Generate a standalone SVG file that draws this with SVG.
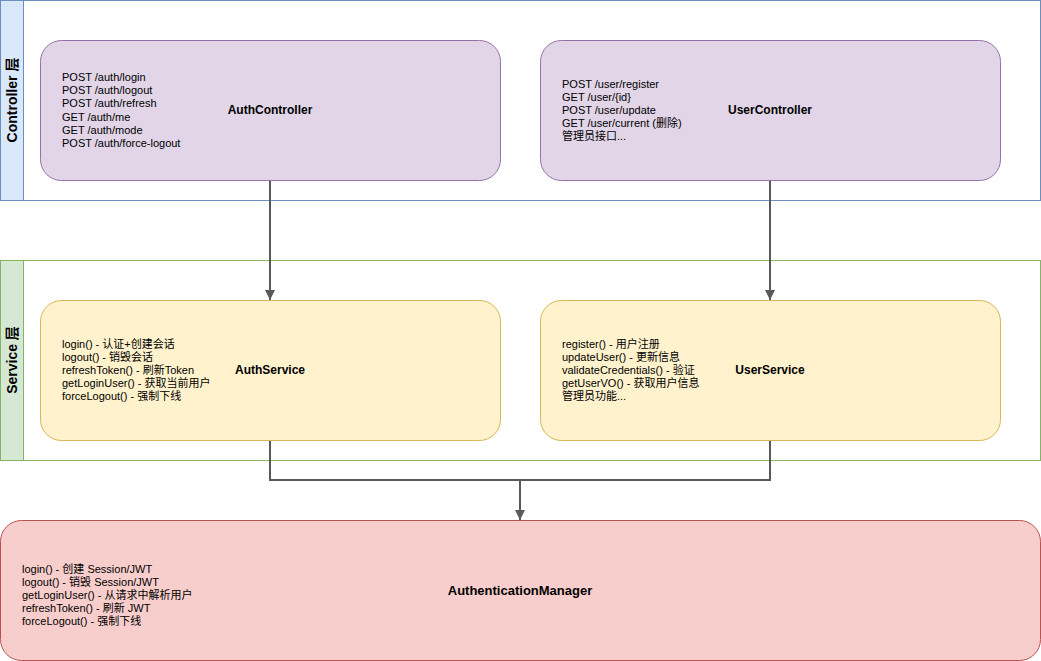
<svg xmlns="http://www.w3.org/2000/svg" width="1041" height="661" viewBox="0 0 1041 661">
  <style>
    text { font-family: "Liberation Sans", "Noto Sans CJK SC", sans-serif; fill: #000000; }
    .lst { font-size: 11px; }
    .ttl { font-size: 12px; font-weight: bold; text-anchor: middle; }
    .ttl-big { font-size: 13px; font-weight: bold; text-anchor: middle; }
    .lane-title { font-size: 14px; font-weight: bold; text-anchor: middle; }
    .ctrl { fill: #e1d5e7; stroke: #9673a6; stroke-width: 1; }
    .svc { fill: #fff2cc; stroke: #d6b656; stroke-width: 1; }
    .mgr { fill: #f8cecc; stroke: #b85450; stroke-width: 1; }
    .edge { fill: none; stroke: #595959; stroke-width: 2; }
  </style>
  <defs>
    <marker id="arrow" viewBox="0 0 10 10" refX="10" refY="5" markerWidth="5" markerHeight="5" markerUnits="strokeWidth" orient="auto">
      <path d="M0,0 L10,5 L0,10 Z" fill="#595959"/>
    </marker>
  </defs>
  <rect x="0" y="0" width="1041" height="661" fill="#ffffff"/>

  <g id="lane-controller">
    <rect x="0.5" y="0.5" width="1040" height="200" fill="#ffffff" stroke="#6c8ebf"/>
    <rect x="0.5" y="0.5" width="23" height="200" fill="#dae8fc" stroke="#6c8ebf"/>
    <text class="lane-title" transform="translate(17,100) rotate(-90)">Controller 层</text>
  </g>

  <g id="lane-service">
    <rect x="0.5" y="260.5" width="1040" height="200" fill="#ffffff" stroke="#82b366"/>
    <rect x="0.5" y="260.5" width="23" height="200" fill="#d5e8d4" stroke="#82b366"/>
    <text class="lane-title" transform="translate(17,360) rotate(-90)">Service 层</text>
  </g>

  <g id="AuthController">
    <rect class="ctrl" x="40.5" y="40.5" width="460" height="140" rx="21" ry="21"/>
    <text class="lst" x="62">
      <tspan x="62" y="81">POST /auth/login</tspan>
      <tspan x="62" y="94.2">POST /auth/logout</tspan>
      <tspan x="62" y="107.4">POST /auth/refresh</tspan>
      <tspan x="62" y="120.6">GET /auth/me</tspan>
      <tspan x="62" y="133.8">GET /auth/mode</tspan>
      <tspan x="62" y="147">POST /auth/force-logout</tspan>
    </text>
    <text class="ttl" x="270" y="114.3">AuthController</text>
  </g>

  <g id="UserController">
    <rect class="ctrl" x="540.5" y="40.5" width="460" height="140" rx="21" ry="21"/>
    <text class="lst" x="562">
      <tspan x="562" y="87.6">POST /user/register</tspan>
      <tspan x="562" y="100.8">GET /user/{id}</tspan>
      <tspan x="562" y="114">POST /user/update</tspan>
      <tspan x="562" y="127.2">GET /user/current (删除)</tspan>
      <tspan x="562" y="140.4">管理员接口...</tspan>
    </text>
    <text class="ttl" x="770" y="114.3">UserController</text>
  </g>

  <g id="AuthService">
    <rect class="svc" x="40.5" y="300.5" width="460" height="140" rx="21" ry="21"/>
    <text class="lst" x="62">
      <tspan x="62" y="347.6">login() - 认证+创建会话</tspan>
      <tspan x="62" y="360.8">logout() - 销毁会话</tspan>
      <tspan x="62" y="374">refreshToken() - 刷新Token</tspan>
      <tspan x="62" y="387.2">getLoginUser() - 获取当前用户</tspan>
      <tspan x="62" y="400.4">forceLogout() - 强制下线</tspan>
    </text>
    <text class="ttl" x="270" y="374.3">AuthService</text>
  </g>

  <g id="UserService">
    <rect class="svc" x="540.5" y="300.5" width="460" height="140" rx="21" ry="21"/>
    <text class="lst" x="562">
      <tspan x="562" y="347.6">register() - 用户注册</tspan>
      <tspan x="562" y="360.8">updateUser() - 更新信息</tspan>
      <tspan x="562" y="374">validateCredentials() - 验证</tspan>
      <tspan x="562" y="387.2">getUserVO() - 获取用户信息</tspan>
      <tspan x="562" y="400.4">管理员功能...</tspan>
    </text>
    <text class="ttl" x="770" y="374.3">UserService</text>
  </g>

  <g id="AuthenticationManager">
    <rect class="mgr" x="0.5" y="520.5" width="1040" height="140" rx="21" ry="21"/>
    <text class="lst" x="22">
      <tspan x="22" y="572.5">login() - 创建 Session/JWT</tspan>
      <tspan x="22" y="585.7">logout() - 销毁 Session/JWT</tspan>
      <tspan x="22" y="598.9">getLoginUser() - 从请求中解析用户</tspan>
      <tspan x="22" y="612.1">refreshToken() - 刷新 JWT</tspan>
      <tspan x="22" y="625.3">forceLogout() - 强制下线</tspan>
    </text>
    <text class="ttl-big" x="520" y="594.6">AuthenticationManager</text>
  </g>

  <g id="connectors">
    <path class="edge" d="M270,181 L270,300" marker-end="url(#arrow)"/>
    <path class="edge" d="M770,181 L770,300" marker-end="url(#arrow)"/>
    <path class="edge" d="M270,441 L270,480 L520,480 L520,520" marker-end="url(#arrow)"/>
    <path class="edge" d="M770,441 L770,480 L520,480"/>
  </g>
</svg>
